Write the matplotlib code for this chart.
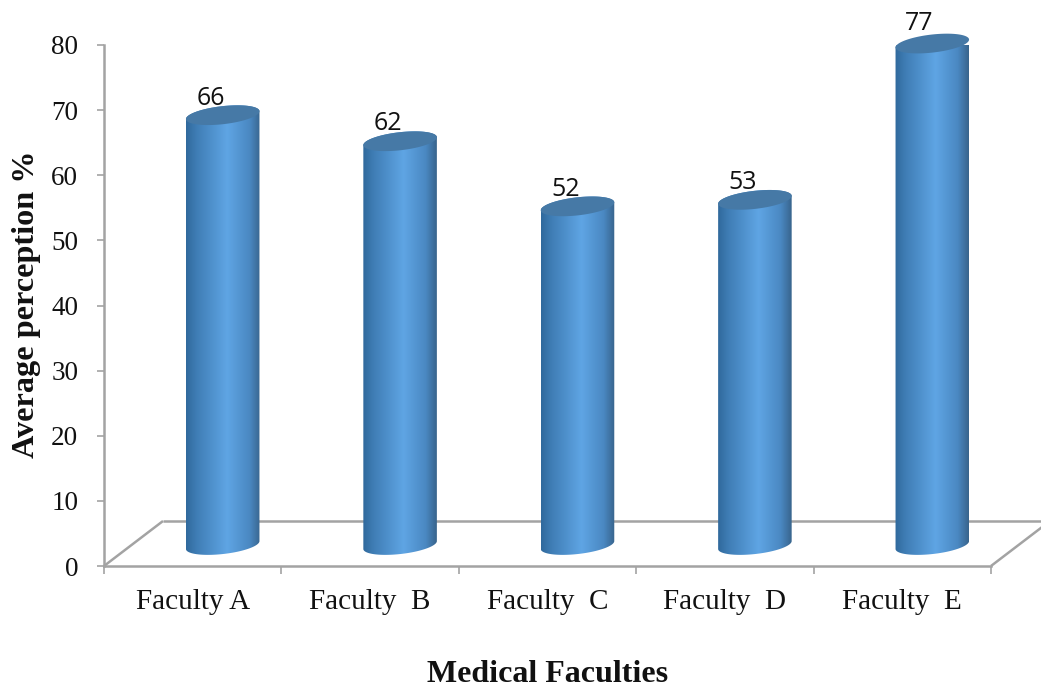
import numpy as np
import matplotlib
matplotlib.use("Agg")
import matplotlib.pyplot as plt
from matplotlib.colors import LinearSegmentedColormap
from matplotlib.patches import PathPatch, Polygon
from matplotlib.path import Path

categories = ["Faculty A", "Faculty  B", "Faculty  C", "Faculty  D", "Faculty  E"]
perception = [66, 62, 52, 53, 77]
y_ticks = [0, 10, 20, 30, 40, 50, 60, 70, 80]

W, H = 1041, 690
LEFT, RIGHT, TOP, BOTTOM = 104, 991, 45, 566
GREY = "#a3a3a3"
SERIF = "Liberation Serif"

fig = plt.figure(figsize=(W / 100, H / 100), dpi=100, facecolor="white")
ax = fig.add_axes([LEFT / W, 1 - BOTTOM / H, (RIGHT - LEFT) / W, (BOTTOM - TOP) / H])
ax.set_xlim(0, len(categories))
ax.set_ylim(0, 80)
ax.patch.set_alpha(0)

px_x = len(categories) / (RIGHT - LEFT)
px_y = 80 / (BOTTOM - TOP)

# Chart floor seen in oblique projection
depth_x, depth_y = 59 * px_x, 45 * px_y
n = len(categories)
for xs, ys in (
    ([0, depth_x], [0, depth_y]),
    ([depth_x, n + depth_x], [depth_y, depth_y]),
    ([n, n + depth_x], [0, depth_y]),
):
    ax.plot(xs, ys, color=GREY, lw=1.8, clip_on=False, zorder=1, solid_capstyle="butt")

for s in ("top", "right"):
    ax.spines[s].set_visible(False)
for s in ("left", "bottom"):
    ax.spines[s].set_color(GREY)
    ax.spines[s].set_linewidth(1.8)

ax.set_yticks(y_ticks)
ax.set_xticks(range(n + 1))
ax.set_xticklabels([])
ax.tick_params(axis="y", length=5, width=1.2, color=GREY, pad=13.5, labelsize=19.5, labelcolor="#111111")
ax.tick_params(axis="x", length=6, width=1.2, color=GREY)
for lab in ax.get_yticklabels():
    lab.set_fontfamily(SERIF)

# Category names sit under the middle of each floor segment
for i, name in enumerate(categories):
    ax.annotate(name, (i + 0.5, 0), xytext=(0, -36), textcoords="offset pixels",
                ha="center", va="center", fontsize=21, family=SERIF, color="#111111",
                annotation_clip=False)

cyl_cmap = LinearSegmentedColormap.from_list(
    "cyl", [(0, "#30699c"), (0.14, "#3f7db5"), (0.55, "#5fa5e4"), (0.85, "#4a88c2"), (1, "#38648c")]
)
gradient = np.linspace(0, 1, 256).reshape(1, -1)

half_w = 37           # cylinder radius, pixels
half_h = 9            # ellipse semi-minor axis, pixels
tilt = np.deg2rad(6.5)
floor_lift = 21 * px_y
label_dx = [-12, -12, -12, -12, -13]
label_dy = [17, 18, 17, 17, 20]


def ellipse(cx, cy, t):
    """Points of a slightly tilted ellipse around (cx, cy) in data units."""
    ex, ey = half_w * np.cos(t), half_h * np.sin(t)
    xp = ex * np.cos(tilt) - ey * np.sin(tilt)
    yp = ex * np.sin(tilt) + ey * np.cos(tilt)
    return cx + xp * px_x, cy + yp * px_y


for i, v in enumerate(perception):
    cx = i + 0.5 + 30 * px_x
    base = floor_lift
    top = base + v

    t_low = np.linspace(np.pi, 2 * np.pi, 60)
    t_up = np.linspace(0, np.pi, 60)
    bx, by = ellipse(cx, base, t_low)
    tx, ty = ellipse(cx, top, t_up)
    side_pts = np.column_stack([np.r_[bx, tx], np.r_[by, ty]])
    clip = PathPatch(Path(np.vstack([side_pts, side_pts[:1]])), transform=ax.transData,
                     fc="none", ec="none")
    ax.add_patch(clip)
    im = ax.imshow(gradient, cmap=cyl_cmap, aspect="auto", zorder=2,
                   extent=(cx - half_w * px_x, cx + half_w * px_x, base - 4, top + 4))
    im.set_clip_path(clip)

    ex, ey = ellipse(cx, top, np.linspace(0, 2 * np.pi, 120))
    ax.add_patch(Polygon(np.column_stack([ex, ey]), closed=True, fc="#4679a6", ec="none",
                         zorder=3, clip_on=False))

    ax.annotate(str(v), (cx, top), xytext=(label_dx[i], label_dy[i]), textcoords="offset pixels",
                ha="center", va="center", fontsize=18, family="Open Sans", color="#111111",
                zorder=4, annotation_clip=False)

ax.set_xlim(0, n)
ax.set_ylim(0, 80)

fig.text(548 / W, 1 - 675 / H, "Medical Faculties", ha="center", va="center",
         fontsize=23, fontweight="bold", family=SERIF, color="#111111")
fig.text(27 / W, 1 - 304 / H, "Average perception %", rotation=90, ha="center", va="center",
         fontsize=23.2, fontweight="bold", family=SERIF, color="#111111")

fig.savefig("out.png", dpi=100, facecolor="white")
